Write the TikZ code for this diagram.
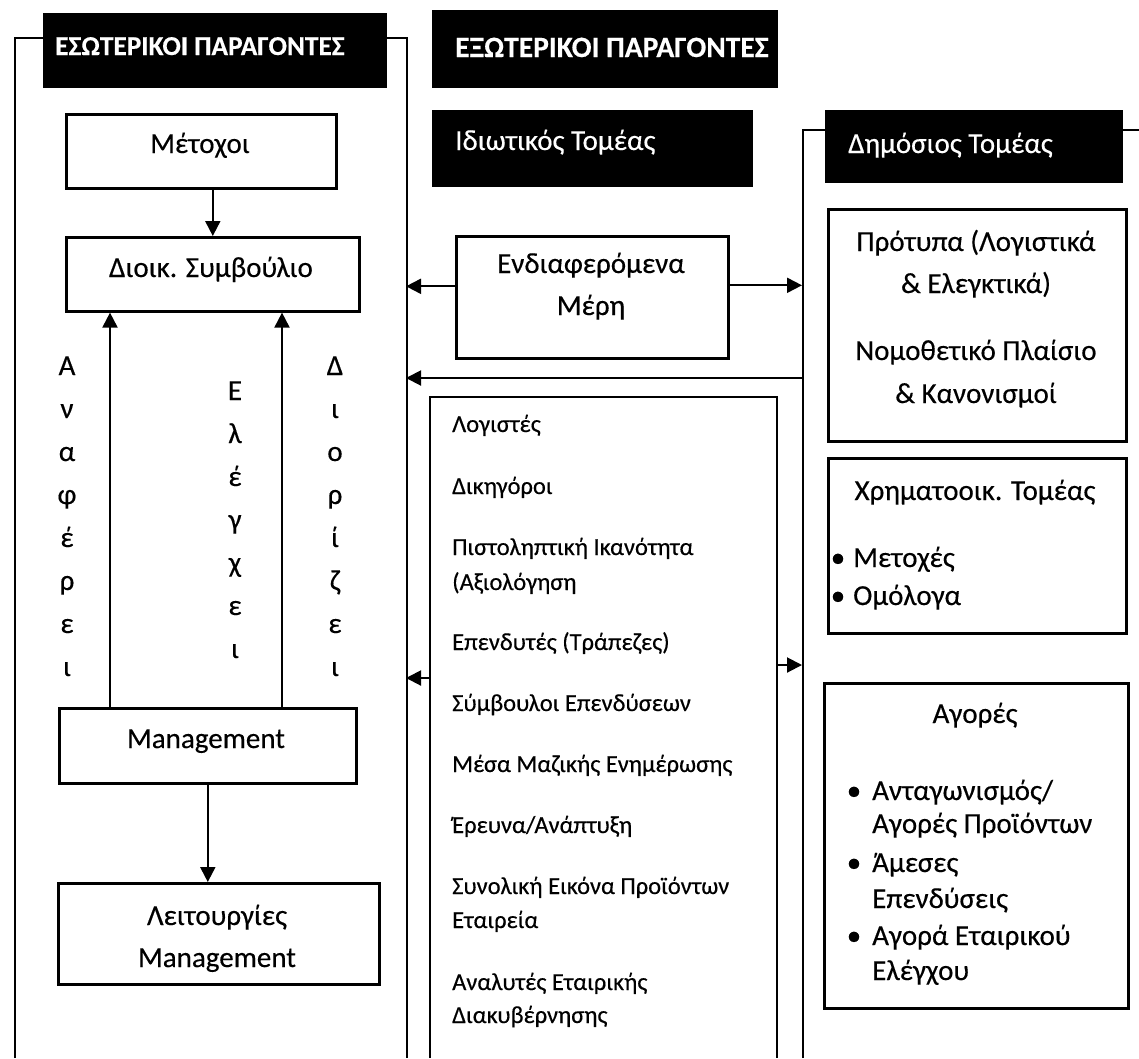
\documentclass[tikz,border=0pt]{standalone}
\usepackage{fontspec}
\setmainfont{Carlito}[FakeBold=0.35]
\usetikzlibrary{arrows.meta}
\begin{document}
\begin{tikzpicture}[x=1pt,y=-1pt,
  ln/.style={line width=2.6pt},
  bx/.style={draw,line width=2.6pt,inner sep=0pt,anchor=north west},
  hdr/.style={fill=black,inner sep=0pt,anchor=north west},
  arr/.style={line width=2pt,-{Triangle[length=15pt,width=15pt]}},
  big/.style={font=\fontsize{29}{35}\selectfont,inner sep=0pt,anchor=base},
  bigw/.style={font=\fontsize{29}{35}\selectfont,inner sep=0pt,anchor=base west},
  sml/.style={font=\fontsize{24.5}{29}\selectfont,inner sep=0pt,anchor=base west},
  hfont/.style={font=\bfseries\fontsize{27.3}{34}\selectfont,text=white,inner sep=0pt,anchor=base west},
  hfontb/.style={font=\bfseries\fontsize{29.5}{34}\selectfont,text=white,inner sep=0pt,anchor=base west},
  wfont/.style={font=\fontsize{29}{35}\selectfont,text=white,inner sep=0pt,anchor=base west},
  vlet/.style={font=\fontsize{29}{35}\selectfont,inner sep=0pt,anchor=base},
]
\useasboundingbox (0,0) rectangle (1139,1058);
\fill[white] (0,0) rectangle (1139,1058);

% black headers
\node[hdr,minimum width=344pt,minimum height=75pt] (h1) at (43,13) {};
\node[hdr,minimum width=346pt,minimum height=78pt] (h2) at (432,10) {};
\node[hdr,minimum width=321pt,minimum height=77pt] (h3) at (432,110) {};
\node[hdr,minimum width=298pt,minimum height=73pt] (h4) at (825,110) {};
\node[hfont] (h1t) at (55,55) {ΕΣΩΤΕΡΙΚΟΙ ΠΑΡΑΓΟΝΤΕΣ};
\node[hfontb] (h2t) at (455,57) {ΕΞΩΤΕΡΙΚΟΙ ΠΑΡΑΓΟΝΤΕΣ};
\node[wfont] (h3t) at (455,150) {Ιδιωτικός Τομέας};
\node[wfont] (h4t) at (848,153) {Δημόσιος Τομέας};

% frames
\coordinate (LFtl) at (15,38);
\coordinate (LFtr) at (407,38);
\draw[ln] (15,1058) -- (LFtl) -- (LFtl -| h1.west);
\draw[ln] (LFtr -| h1.east) -- (LFtr) -- (407,1058);
\coordinate (RFt) at (803,130);
\draw[ln] (803,1058) -- (RFt) -- (RFt -| h4.west);
\draw[ln] (RFt -| h4.east) -- (1139,130);
\coordinate (LFR) at (406,0);
\coordinate (RFL) at (802,0);

% left boxes
\node[bx,minimum width=270pt,minimum height=74pt] (met) at (65,113) {};
\node[bx,minimum width=293pt,minimum height=74pt] (dio) at (65,236) {};
\node[bx,minimum width=297pt,minimum height=75pt] (mgm) at (58,707) {};
\node[bx,minimum width=321pt,minimum height=101pt] (lei) at (57,882) {};
\node[big] (mett) at (200,153) {Μέτοχοι};
\node[big] (diot) at (211,277) {Διοικ. Συμβούλιο};
\node[big] (mgmt) at (206,748) {Management};
\node[big] (leit1) at (217,925) {Λειτουργίες};
\node[big] (leit2) at (217,967) {Management};

\draw[arr] (met.south -| dio.north) -- (dio.north);
\draw[arr] (mgm.south) -- (mgm.south |- lei.north);
\path (mgm.north west) +(52,0) coordinate (up1) +(224,0) coordinate (up2);
\draw[arr] (up1) -- (up1 |- dio.south);
\draw[arr] (up2) -- (up2 |- dio.south);

\foreach \ch [count=\i] in {Α,ν,α,φ,έ,ρ,ε,ι}
  \node[vlet] (ana\i) at (67,{375+43*(\i-1)}) {\ch};
\foreach \ch [count=\i] in {Ε,λ,έ,γ,χ,ε,ι}
  \node[vlet] (ele\i) at (235,{400+43*(\i-1)}) {\ch};
\foreach \ch [count=\i] in {Δ,ι,ο,ρ,ί,ζ,ε,ι}
  \node[vlet] (dor\i) at (335,{375+43*(\i-1)}) {\ch};

% middle
\node[bx,minimum width=272pt,minimum height=122pt] (end) at (455,235) {};
\node[big] (endt1) at (591,273) {Ενδιαφερόμενα};
\node[big] (endt2) at (591,315) {Μέρη};
\draw[arr] ([yshift=11pt]end.west) -- ([yshift=11pt]end.west -| LFR);
\draw[arr] ([yshift=12pt]end.east) -- ([yshift=12pt]end.east -| RFL);
\coordinate (midl) at (803,378);
\draw[arr] (midl) -- (midl -| LFR);

\draw[ln] (430,1058) -- (430,397) -- (777,397) -- (777,1058);
\coordinate (LBl) at (430,678);
\coordinate (LBr) at (777,665);
\draw[arr] (LBl) -- (LBl -| LFR);
\draw[arr] (LBr) -- (LBr -| RFL);

\node[sml] (l1) at (452,432) {Λογιστές};
\node[sml] (l2) at (452,494) {Δικηγόροι};
\node[sml] (l3) at (452,555) {Πιστοληπτική Ικανότητα};
\node[sml] (l3b) at (452,590) {(Αξιολόγηση};
\node[sml] (l4) at (452,650) {Επενδυτές (Τράπεζες)};
\node[sml] (l5) at (452,711) {Σύμβουλοι Επενδύσεων};
\node[sml] (l6) at (452,772) {Μέσα Μαζικής Ενημέρωσης};
\node[sml] (l7) at (452,833) {Έρευνα/Ανάπτυξη};
\node[sml] (l8) at (452,894) {Συνολική Εικόνα Προϊόντων};
\node[sml] (l8b) at (452,928) {Εταιρεία};
\node[sml] (l9) at (452,990) {Αναλυτές Εταιρικής};
\node[sml] (l9b) at (452,1023) {Διακυβέρνησης};

% right boxes
\node[bx,minimum width=298pt,minimum height=232pt] (pro) at (827,208) {};
\node[bx,minimum width=298pt,minimum height=175pt] (xrm) at (827,457) {};
\node[bx,minimum width=304pt,minimum height=325pt] (ago) at (823,682) {};
\node[big] (pro1) at (976,251) {Πρότυπα (Λογιστικά};
\node[big] (pro2) at (976,293) {\& Ελεγκτικά)};
\node[big] (pro3) at (976,360) {Νομοθετικό Πλαίσιο};
\node[big] (pro4) at (976,403) {\& Κανονισμοί};
\node[big] (xrmt) at (975,500) {Χρηματοοικ. Τομέας};
\node[big] (b1) at (838,567) {•};
\node[bigw] (xr1) at (853,567) {Μετοχές};
\node[big] (b2) at (838,605) {•};
\node[bigw] (xr2) at (853,605) {Ομόλογα};
\node[big] (agot) at (975,723) {Αγορές};
\node[big] (b3) at (854,800) {•};
\node[bigw] (ag1) at (872,800) {Ανταγωνισμός/};
\node[bigw] (ag1b) at (872,833) {Αγορές Προϊόντων};
\node[big] (b4) at (854,872) {•};
\node[bigw] (ag2) at (872,872) {Άμεσες};
\node[bigw] (ag2b) at (872,908) {Επενδύσεις};
\node[big] (b5) at (854,945) {•};
\node[bigw] (ag3) at (872,945) {Αγορά Εταιρικού};
\node[bigw] (ag3b) at (872,980) {Ελέγχου};
\end{tikzpicture}
\end{document}
